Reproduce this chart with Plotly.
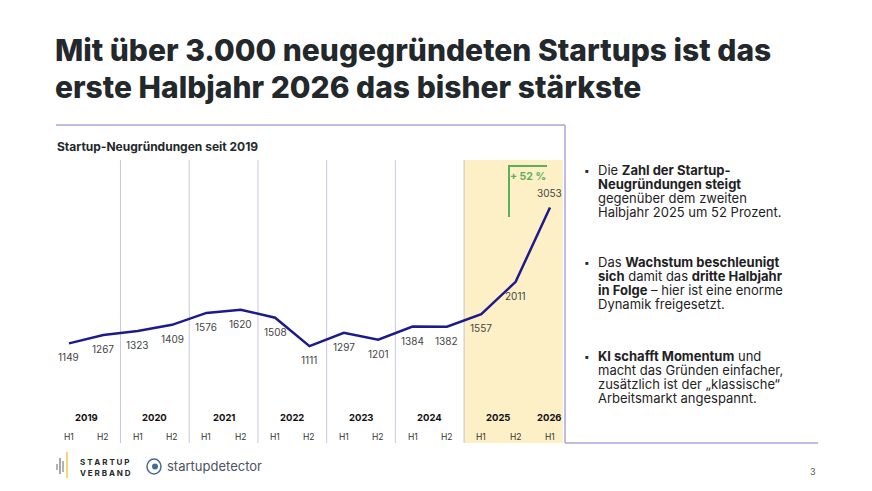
import plotly.graph_objects as go

# Startup-Neugruendungen je Halbjahr
periods = ['2019 H1', '2019 H2', '2020 H1', '2020 H2', '2021 H1', '2021 H2',
           '2022 H1', '2022 H2', '2023 H1', '2023 H2', '2024 H1', '2024 H2',
           '2025 H1', '2025 H2', '2026 H1']
halves = ['H1', 'H2'] * 7 + ['H1']
years = ['2019', '2020', '2021', '2022', '2023', '2024', '2025', '2026']
values = [1149, 1267, 1323, 1409, 1576, 1620, 1508, 1111,
          1297, 1201, 1384, 1382, 1557, 2011, 3053]

PAGE = 8                      # body margin of the page
W, H = 872 - PAGE, 491 - PAGE
L, R, T, B = 56, 565, 160, 443   # plot area in screen pixels

FONT = 'Inter'
DARK = '#22282b'
LAV = '#aaa5d8'
LINE = '#1c1a8c'
GREEN = '#5aae5c'


def px(x):
    return (x - L) / (R - L)


def py(y):
    return (B - y) / (B - T)


idx = list(range(len(values)))

fig = go.Figure()
fig.add_trace(go.Scatter(x=idx, y=values, mode='lines',
                         line=dict(color=LINE, width=2.5),
                         hoverinfo='skip', showlegend=False))

shapes = []
# highlight 2025/2026
shapes.append(dict(type='rect', xref='x', yref='paper', x0=11.5, x1=14.38, y0=0, y1=1,
                   fillcolor='#fdf0c6', line=dict(width=0), layer='below'))
# year separators
for k in range(1, 7):
    shapes.append(dict(type='line', xref='x', yref='paper', x0=2 * k - 0.5, x1=2 * k - 0.5,
                       y0=0, y1=1, line=dict(color='#c9c6e6' if k < 6 else '#c9c7c0', width=1),
                       layer='below'))
# frame
shapes.append(dict(type='line', xref='paper', yref='paper', x0=0, x1=1, y0=py(125), y1=py(125),
                   line=dict(color=LAV, width=1.5)))
shapes.append(dict(type='line', xref='paper', yref='paper', x0=1, x1=1, y0=py(125), y1=0,
                   line=dict(color=LAV, width=1.5)))
shapes.append(dict(type='line', xref='paper', yref='paper', x0=1, x1=px(818), y0=0, y1=0,
                   line=dict(color=LAV, width=1.5)))
# growth bracket
shapes.append(dict(type='path', xref='paper', yref='paper',
                   path='M {},{} L {},{} L {},{}'.format(px(509), py(217), px(509), py(166),
                                                          px(547), py(166)),
                   line=dict(color=GREEN, width=2)))
# footer logo: bars
for x0, y0, y1, c in [(57, 464, 470, '#9a9a9a'), (60, 458, 474, '#8a8a8a'),
                      (63, 461, 472, '#9a9a9a'), (67, 452, 478, '#f2c94c')]:
    shapes.append(dict(type='line', xref='paper', yref='paper', x0=px(x0), x1=px(x0),
                       y0=py(y0), y1=py(y1), line=dict(color=c, width=1.5)))
# footer logo: detector mark
shapes.append(dict(type='circle', xref='paper', yref='paper', x0=px(147), x1=px(161),
                   y0=py(474), y1=py(459), line=dict(color='#4a6a96', width=1.5)))
shapes.append(dict(type='circle', xref='paper', yref='paper', x0=px(152), x1=px(158),
                   y0=py(469.5), y1=py(463.5), fillcolor='#4a6a96', line=dict(width=0)))

ann = []


def text(x, y, s, size, color=DARK, weight='normal', xanchor='left', family=FONT):
    ann.append(dict(xref='paper', yref='paper', x=px(x), y=py(y), text=s, showarrow=False,
                    xanchor=xanchor, yanchor='middle', borderpad=0,
                    font=dict(family=family, size=size, color=color, weight=weight)))


# value labels
for i, v in zip(idx, values):
    ann.append(dict(xref='x', yref='y', x=i, y=v, text=str(v), showarrow=False,
                    yanchor='middle', yshift=14 if i == idx[-1] else -14,
                    font=dict(family=FONT, size=10, color='#444444')))

# title
text(54, 50, 'Mit über 3.000 neugegründeten Startups ist das', 30, weight=800)
text(54, 87, 'erste Halbjahr 2026 das bisher stärkste', 30, weight=800)
text(56, 146, 'Startup-Neugründungen seit 2019', 12, weight=700)

# year and half-year labels
year_x = [0.5, 2.5, 4.5, 6.5, 8.5, 10.5, 12.5, 14]
for yr, xc in zip(years, year_x):
    ann.append(dict(xref='x', yref='paper', x=xc, y=py(417), text=yr, showarrow=False,
                    xanchor='center', yanchor='middle',
                    font=dict(family=FONT, size=9.5, color='#111', weight=700)))
for i, h in zip(idx, halves):
    ann.append(dict(xref='x', yref='paper', x=i, y=py(437), text=h, showarrow=False,
                    xanchor='center', yanchor='middle',
                    font=dict(family=FONT, size=8.5, color='#333')))

text(528, 176, '+ 52 %', 10.5, color=GREEN, weight=700, xanchor='center')

# right-hand commentary
bullets = [
    (170, ['Die <b>Zahl der Startup-</b>', '<b>Neugründungen steigt</b>',
           'gegenüber dem zweiten', 'Halbjahr 2025 um 52 Prozent.']),
    (262, ['Das <b>Wachstum beschleunigt</b>', '<b>sich</b> damit das <b>dritte Halbjahr</b>',
           '<b>in Folge</b> – hier ist eine enorme', 'Dynamik freigesetzt.']),
    (356, ['<b>KI schafft Momentum</b> und', 'macht das Gründen einfacher,',
           'zusätzlich ist der „klassische“', 'Arbeitsmarkt angespannt.']),
]
for y0, lines in bullets:
    text(583, y0, '▪', 10)
    for j, s in enumerate(lines):
        text(597, y0 + j * 14, s, 13, color='#1e2224')

# footer
text(79, 462, 'S T A R T U P', 8, weight=700)
text(79, 473, 'V E R B A N D', 8, weight=700)
text(166, 466, 'startupdetector', 13, color='#4a5360')
text(817, 471, '3', 9, color='#555', xanchor='right')

fig.update_layout(
    width=W, height=H,
    margin=dict(l=L - PAGE, r=W - (R - PAGE), t=T - PAGE, b=H - (B - PAGE)),
    paper_bgcolor='white', plot_bgcolor='rgba(0,0,0,0)',
    xaxis=dict(range=[-0.378, 14.437], visible=False, fixedrange=True),
    yaxis=dict(range=[-246, 3717], visible=False, fixedrange=True),
    shapes=shapes, annotations=ann,
)

fig.write_html('out.html')
